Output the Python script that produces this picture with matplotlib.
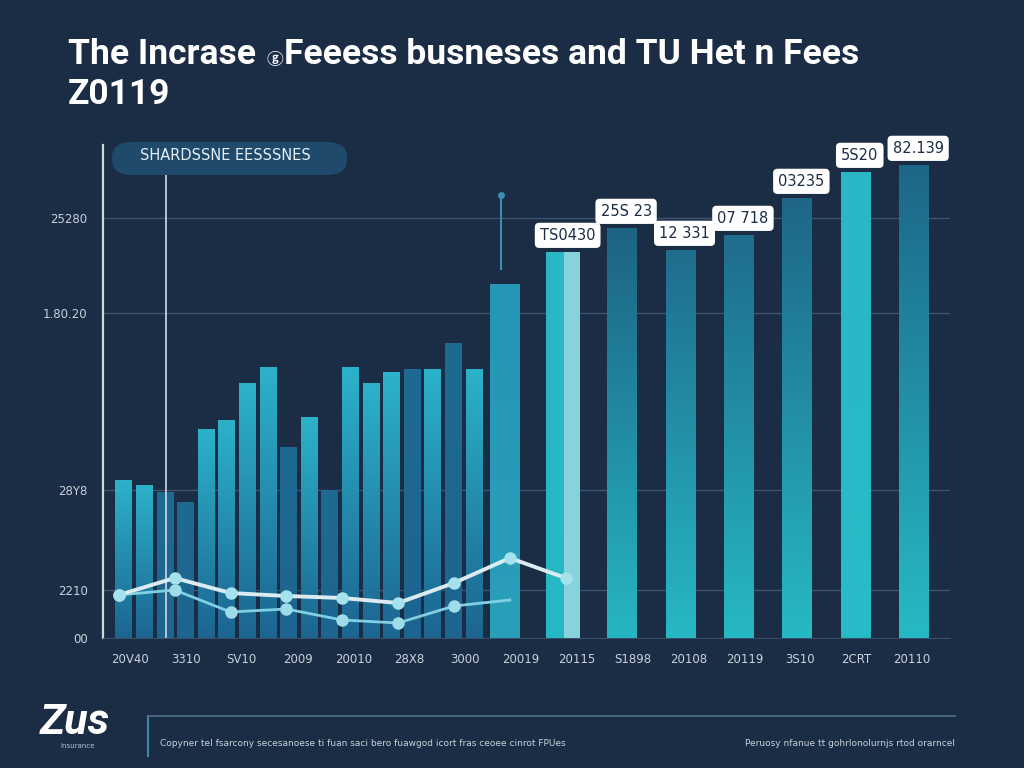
import numpy as np
import matplotlib
matplotlib.use("Agg")
import matplotlib.pyplot as plt
from matplotlib.lines import Line2D
from matplotlib.patches import FancyBboxPatch
from matplotlib.colors import LinearSegmentedColormap
from matplotlib.offsetbox import TextArea, HPacker, AnnotationBbox

BG = "#1b2d45"

# categories on the x axis
x_labels = ["20V40", "3310", "SV10", "2009", "20010", "28X8", "3000", "20019",
            "20115", "S1898", "20108", "20119", "3S10", "2CRT", "20110"]

# y axis ticks (values in axis units) and their printed labels
y_ticks = [0, 48, 148, 325, 420]
y_tick_labels = ["00", "2210", "28Y8", "1.80.20", "25280"]

# narrow bars of the left cluster
left_values = [158, 153, 146, 136, 209, 218, 255, 271, 191, 221,
               148, 271, 255, 266, 269, 269, 295, 269]

# big bars on the right
right_values = [354, 386, 410, 388, 403, 440, 466, 473]
right_labels = [None, "TS0430", "25S 23", "12 331", "07 718", "03235", "5S20", "82.139"]

# two trend lines
line_a = [43, 60, 45, 42, 40, 35, 55, 80, 60]
line_b = [43, 48, 26, 29, 18, 15, 32, 38]

fig = plt.figure(figsize=(10.24, 7.68), dpi=100, facecolor=BG)
ax = fig.add_axes([103 / 1024, 130 / 768, 847 / 1024, 493 / 768])
ax.set_facecolor(BG)


def gradient_bar(x, h, w, top, bottom, z=2):
    bar = ax.bar(x, h, width=w, color="none", edgecolor="none", zorder=z)[0]
    cmap = LinearSegmentedColormap.from_list("g", [bottom, top])
    grad = np.linspace(0, 1, 256).reshape(-1, 1)
    im = ax.imshow(grad, cmap=cmap, origin="lower", aspect="auto",
                   extent=[x - w / 2, x + w / 2, 0, h], zorder=z)
    im.set_clip_path(bar)
    return bar


# grid lines
for t in y_ticks[1:]:
    ax.axhline(t, color="#3b536c", lw=1, zorder=1)

# left cluster
left_pos = np.linspace(-0.11, 6.16, len(left_values))
for i, (p, v) in enumerate(zip(left_pos, left_values)):
    top = "#1f6a92" if i in (2, 3, 8, 10, 14, 16) else "#2cb2c9"
    gradient_bar(p, v, 0.3, top, "#1c6590")

# right bars
right_pos = np.linspace(6.71, 14.03, len(right_values))
right_cols = [("#2596b4", "#2a9fba"), ("#2bb6c6", "#27b8c4"), ("#1d6383", "#26b6c2"),
              ("#1f6d8c", "#27b8c4"), ("#1f6c8c", "#26b8c3"), ("#1e6686", "#27b9c4"),
              ("#2ab6c6", "#26bcc6"), ("#1d6787", "#27bac4")]
for k, v in enumerate(right_values):
    px = right_pos[k]
    w = 0.6 if k == 1 else 0.52
    gradient_bar(px, v, w, right_cols[k][0], right_cols[k][1])
    if k == 1:
        ax.bar(px + 0.16, v, width=0.29, color="#86d3de", zorder=3)
    if right_labels[k]:
        ax.annotate(right_labels[k], (px + 0.08, v), xytext=(0, 12),
                    textcoords="offset points", ha="center", va="center",
                    fontsize=10.5, color="#1b2d45", family="DejaVu Sans", zorder=6,
                    bbox=dict(boxstyle="round,pad=0.35,rounding_size=0.3",
                              fc="white", ec="none"))

# decorative marker lines
ax.axvline(0.65, color="#c5ced8", lw=1.3, zorder=4)
ax.vlines(6.65, 368, 443, color="#3a8db0", lw=1.5, zorder=4)
ax.plot([6.65], [443], "o", color="#3a8db0", ms=4, zorder=4)

# trend lines
xa = np.arange(len(line_a)) - 0.2
xb = np.arange(len(line_b)) - 0.2
ax.plot(xb, line_b, color="#7fd0e2", lw=2, zorder=5)
ax.plot(xb[:-1], line_b[:-1], "o", color="#9fdcea", ms=8, zorder=5)
ax.plot(xa, line_a, color="#dcebf2", lw=2.8, zorder=5)
ax.plot(xa, line_a, "o", color="#a6e2ee", ms=8, zorder=5)

ax.set_xlim(-0.483, 14.68)
ax.set_ylim(0, 493)
ax.set_xticks(range(len(x_labels)))
ax.set_xticklabels(x_labels, fontsize=8.5, color="#c8d1db")
ax.set_yticks(y_ticks)
ax.set_yticklabels(y_tick_labels, fontsize=8.5, color="#c8d1db")
ax.tick_params(length=0, pad=11)
for s in ["top", "right"]:
    ax.spines[s].set_visible(False)
ax.spines["left"].set_color("#cfd7df")
ax.spines["left"].set_linewidth(1.6)
ax.spines["bottom"].set_color("#34506a")

# legend pill
pill = FancyBboxPatch((112 / 1024, (768 - 175) / 768), 235 / 1024, 33 / 768,
                      boxstyle="round,pad=0,rounding_size=0.02",
                      transform=fig.transFigure, fc="#1f4a6b", ec="none")
fig.add_artist(pill)
fig.text(225 / 1024, 1 - 156 / 768, "SHARDSSNE EESSSNES", fontsize=10.5,
         color="#e6eef4", ha="center", va="center", fontweight="medium")

# title, with a small circled letter in the first line
title_fonts = ["Roboto", "Noto Sans CJK SC", "DejaVu Sans"]
big = dict(fontsize=25.5, fontweight="bold", color="white", family=title_fonts)
small = dict(fontsize=12, fontweight="bold", color="white", family=title_fonts)
parts = [TextArea("The Incrase ", textprops=big),
         TextArea("\u24d6", textprops=small),
         TextArea("Feeess busneses and TU Het n Fees", textprops=big)]
line1 = HPacker(children=parts, align="baseline", pad=0, sep=1)
fig.add_artist(AnnotationBbox(line1, (68 / 1024, 1 - 55 / 768), xycoords="figure fraction",
                              box_alignment=(0, 0.5), frameon=False, pad=0))
fig.text(68 / 1024, 1 - 95 / 768, "Z0119", va="center", **big)

# footer
fig.text(40 / 1024, 1 - 722 / 768, "Zus", fontsize=31, fontweight="bold",
         style="italic", color="white", va="center", family="Roboto")
fig.text(78 / 1024, 1 - 746 / 768, "insurance", fontsize=5, color="#b8c4d0",
         ha="center", va="center")
fig.add_artist(Line2D([148 / 1024, 148 / 1024], [1 - 716 / 768, 1 - 756 / 768],
                      color="#3f86ad", lw=1.5, transform=fig.transFigure))
fig.add_artist(Line2D([148 / 1024, 955 / 1024], [1 - 716 / 768, 1 - 716 / 768],
                      color="#4f6e88", lw=1.2, transform=fig.transFigure))
fig.text(160 / 1024, 1 - 743 / 768,
         "Copyner tel fsarcony secesanoese ti fuan saci bero fuawgod icort fras ceoee cinrot FPUes",
         fontsize=6.5, color="#c8d1db", va="center")
fig.text(955 / 1024, 1 - 743 / 768, "Peruosy nfanue tt gohrlonolurnjs rtod orarncel",
         fontsize=6.5, color="#c8d1db", va="center", ha="right")

fig.savefig("out.png", dpi=100, facecolor=BG)
